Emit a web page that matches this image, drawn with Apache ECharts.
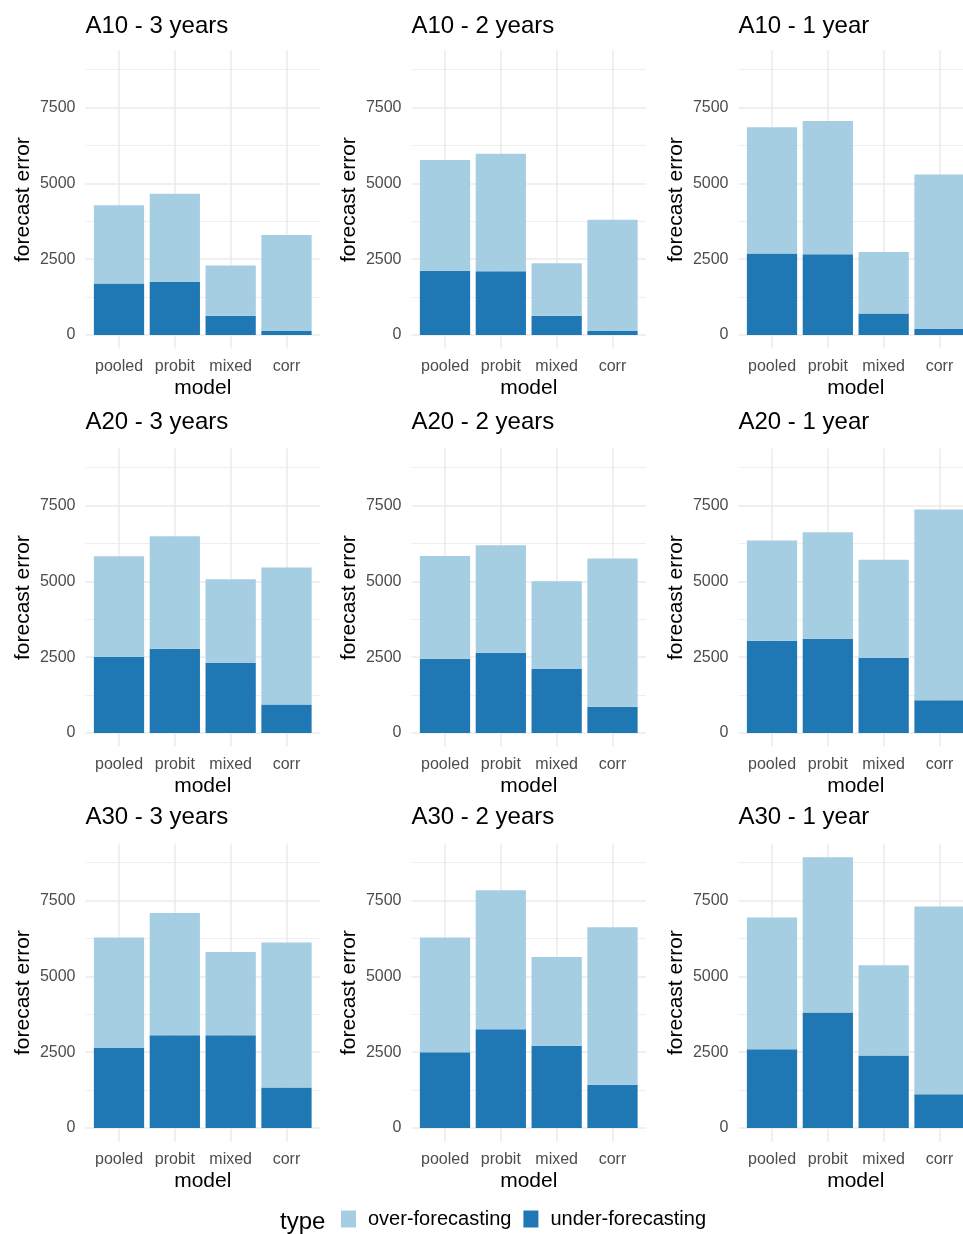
<!DOCTYPE html>
<html>
<head>
<meta charset="utf-8">
<script src="https://cdn.jsdelivr.net/npm/echarts@6/dist/echarts.min.js"></script>
<style>
  html, body { margin: 0; padding: 0; background: #fff; }
  #main { width: 963px; height: 1234px; }
</style>
</head>
<body>
<div id="main"></div>
<script>
// models on the x axis of every panel
const models = ['pooled', 'probit', 'mixed', 'corr'];
// panel titles, row by row
const panelTitles = [
    'A10 - 3 years', 'A10 - 2 years', 'A10 - 1 year',
    'A20 - 3 years', 'A20 - 2 years', 'A20 - 1 year',
    'A30 - 3 years', 'A30 - 2 years', 'A30 - 1 year'
];
// under-forecasting error per panel (pooled, probit, mixed, corr)
const underForecasting = [
    [1700, 1750, 640, 130],
    [2120, 2100, 640, 130],
    [2690, 2660, 710, 200],
    [2510, 2780, 2310, 940],
    [2450, 2650, 2110, 870],
    [3040, 3110, 2480, 1080],
    [2640, 3060, 3060, 1340],
    [2500, 3260, 2710, 1430],
    [2600, 3810, 2390, 1110]
];
// over-forecasting error per panel, stacked on top
const overForecasting = [
    [2580, 2910, 1650, 3170],
    [3650, 3880, 1730, 3670],
    [4160, 4400, 2030, 5090],
    [3320, 3710, 2760, 4520],
    [3390, 3540, 2890, 4880],
    [3310, 3510, 3230, 6290],
    [3640, 4030, 2740, 4780],
    [3780, 4580, 2930, 5190],
    [4340, 5120, 2980, 6190]
];
// y ticks
const yMajor = [0, 2500, 5000, 7500];
const yMinor = [1250, 3750, 6250, 8750];

const yMin = -447, yMax = 9377;
const colLeft = [85.5, 411.5, 738.5];
const rowTop = [50.6, 448.6, 843.6];
const titleTop = [14, 410, 805];
const panelW = 234.5;
const panelH = 298;
// ggplot discrete axis spans 0.4..4.6, bars live in 0.5..4.5
const bandPad = panelW * 0.1 / 4.2;
const gridColor = '#EBEBEB';
const labelColor = '#4D4D4D';
const font = 'Liberation Sans, Arial, sans-serif';

let myChart = echarts.init(document.getElementById('main'));

let grids = [], xAxes = [], yAxes = [], series = [], titles = [];
for (let i = 0; i < panelTitles.length; i++) {
    let c = i % 3, r = Math.floor(i / 3);
    // background grid: gridlines, labels, axis names
    grids.push({ left: colLeft[c], top: rowTop[r], width: panelW, height: panelH, outerBoundsMode: 'none' });
    // bar grid, same height, inset to the category bands
    grids.push({
        left: colLeft[c] + bandPad, top: rowTop[r], width: panelW - 2 * bandPad, height: panelH,
        outerBoundsMode: 'none'
    });
    titles.push({
        text: panelTitles[i],
        left: colLeft[c],
        top: titleTop[r],
        padding: 0,
        textStyle: { fontSize: 24, fontWeight: 'normal', color: '#000', fontFamily: font }
    });
    xAxes.push({
        type: 'value', gridIndex: 2 * i, min: 0.4, max: 4.6,
        name: 'model', nameLocation: 'middle', nameGap: 29,
        nameTextStyle: { fontSize: 21, color: '#000' },
        axisLine: { show: false },
        axisTick: { show: false, customValues: [1, 2, 3, 4] },
        axisLabel: {
            customValues: [1, 2, 3, 4], fontSize: 16, color: labelColor, margin: 10,
            formatter: v => models[Math.round(v) - 1]
        },
        splitLine: { show: true, lineStyle: { color: gridColor, width: 1.5 } }
    });
    xAxes.push({
        type: 'category', gridIndex: 2 * i + 1, data: models, show: false
    });
    // main y axis with labels + major grid
    yAxes.push({
        type: 'value', gridIndex: 2 * i, min: yMin, max: yMax,
        name: 'forecast error', nameLocation: 'middle', nameGap: 52,
        nameTextStyle: { fontSize: 21, color: '#000' },
        axisLine: { show: false },
        axisTick: { show: false, customValues: yMajor },
        axisLabel: {
            customValues: yMajor, fontSize: 16, color: labelColor, margin: 10,
            formatter: v => String(v)
        },
        splitLine: { show: true, lineStyle: { color: gridColor, width: 1.5 } }
    });
    // minor grid lines
    yAxes.push({
        type: 'value', gridIndex: 2 * i, min: yMin, max: yMax, position: 'left',
        axisLine: { show: false },
        axisTick: { show: false, customValues: yMinor },
        axisLabel: { show: false, customValues: yMinor },
        splitLine: { show: true, lineStyle: { color: gridColor, width: 0.8 } }
    });
    // bar y axis, hidden
    yAxes.push({
        type: 'value', gridIndex: 2 * i + 1, min: yMin, max: yMax, show: false
    });
    series.push({
        name: 'under-forecasting', type: 'bar', stack: 'p' + i,
        xAxisIndex: 2 * i + 1, yAxisIndex: 3 * i + 2, barWidth: '90%',
        itemStyle: { color: '#1F78B4' },
        data: underForecasting[i]
    });
    series.push({
        name: 'over-forecasting', type: 'bar', stack: 'p' + i,
        xAxisIndex: 2 * i + 1, yAxisIndex: 3 * i + 2, barWidth: '90%',
        itemStyle: { color: '#A6CEE3' },
        data: overForecasting[i]
    });
}

let option = {
    animation: false,
    textStyle: { fontFamily: font },
    title: titles,
    grid: grids,
    xAxis: xAxes,
    yAxis: yAxes,
    series: series,
    legend: {
        data: ['over-forecasting', 'under-forecasting'],
        left: 341, top: 1209, padding: 0,
        icon: 'rect', itemWidth: 15, itemHeight: 17, itemGap: 12,
        textStyle: { fontSize: 20, color: '#000', padding: [0, 0, 0, 7] }
    },
    graphic: [{
        type: 'text', left: 280, top: 1210,
        style: { text: 'type', fontSize: 24, fill: '#000', fontFamily: font }
    }]
};
myChart.setOption(option);
</script>
</body>
</html>
